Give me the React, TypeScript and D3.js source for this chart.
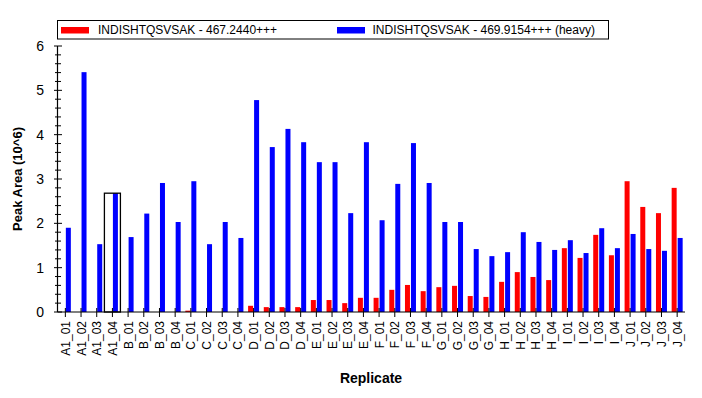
import * as d3 from "d3";

const replicates = [
  "A1_01", "A1_02", "A1_03", "A1_04",
  "B_01", "B_02", "B_03", "B_04",
  "C_01", "C_02", "C_03", "C_04",
  "D_01", "D_02", "D_03", "D_04",
  "E_01", "E_02", "E_03", "E_04",
  "F_01", "F_02", "F_03", "F_04",
  "G_01", "G_02", "G_03", "G_04",
  "H_01", "H_02", "H_03", "H_04",
  "I_01", "I_02", "I_03", "I_04",
  "J_01", "J_02", "J_03", "J_04",
];

// light precursor, 10^6
const lightArea = [
  0, 0, 0, 0,
  0, 0, 0, 0,
  0.03, 0, 0, 0,
  0.14, 0.11, 0.11, 0.11,
  0.27, 0.27, 0.2, 0.32,
  0.32, 0.5, 0.61, 0.47,
  0.56, 0.59, 0.36, 0.34,
  0.68, 0.9, 0.79, 0.72,
  1.44, 1.22, 1.74, 1.28,
  2.95, 2.37, 2.23, 2.8,
];

// heavy precursor, 10^6
const heavyArea = [
  1.9, 5.41, 1.53, 2.68,
  1.69, 2.22, 2.91, 2.03,
  2.95, 1.53, 2.03, 1.67,
  4.78, 3.72, 4.13, 3.83,
  3.38, 3.38, 2.23, 3.83,
  2.07, 2.89, 3.81, 2.91,
  2.03, 2.03, 1.42, 1.26,
  1.35, 1.8, 1.58, 1.4,
  1.62, 1.33, 1.89, 1.44,
  1.76, 1.42, 1.38, 1.67,
];

const yTicks = [0, 1, 2, 3, 4, 5, 6];
const seriesNames = [
  "INDISHTQSVSAK - 467.2440+++",
  "INDISHTQSVSAK - 469.9154+++ (heavy)",
];
const selected = "A1_04";

const W = 702;
const H = 398;
const FONT = "'Liberation Sans', Arial, sans-serif";

export default function App() {
  const x = d3.scaleBand<string>().domain(replicates).range([57.5, 685]).padding(0);
  const y = d3.scaleLinear().domain([0, 6]).range([312, 46]);
  const minor = d3.range(0, 6.001, 0.2).filter((v) => Math.abs(v - Math.round(v)) > 0.01);
  const cx = (r: string) => (x(r) as number) + x.bandwidth() / 2;
  const selIdx = replicates.indexOf(selected);
  const selMax = Math.max(lightArea[selIdx], heavyArea[selIdx]);

  return (
    <svg
      width={W}
      height={H}
      style={{ position: "absolute", left: 0, top: 0, background: "#fff" }}
      fontFamily={FONT}
    >
      {/* legend */}
      <rect x={57.5} y={20.5} width={551} height={18.5} fill="#fff" stroke="#000" />
      <rect x={61} y={27} width={28} height={6.5} fill="#FF0000" />
      <text x={98} y={34} fontSize={12}>{seriesNames[0]}</text>
      <rect x={337} y={27} width={28} height={6.5} fill="#0000FF" />
      <text x={372.5} y={34} fontSize={12}>{seriesNames[1]}</text>

      {/* bars */}
      {replicates.map((r, i) => (
        <g key={r}>
          <rect x={cx(r) - 5.5} y={y(lightArea[i])} width={5} height={y(0) - y(lightArea[i])} fill="#FF0000" />
          <rect x={cx(r) + 0.5} y={y(heavyArea[i])} width={5} height={y(0) - y(heavyArea[i])} fill="#0000FF" />
        </g>
      ))}

      {/* selected replicate outline */}
      <rect
        x={cx(selected) - 8}
        y={y(selMax)}
        width={16}
        height={y(0) - y(selMax)}
        fill="none"
        stroke="#000"
        strokeWidth={1.3}
      />

      {/* y axis */}
      <line x1={57.5} x2={57.5} y1={y(6)} y2={y(0)} stroke="#000" strokeWidth={1.2} />
      {minor.map((v) => (
        <line key={v} x1={55} x2={61} y1={y(v)} y2={y(v)} stroke="#000" />
      ))}
      {yTicks.map((v) => (
        <g key={v}>
          <line x1={54} x2={62} y1={y(v)} y2={y(v)} stroke="#000" />
          <text x={44} y={y(v) + 5} fontSize={14} textAnchor="end">{v}</text>
        </g>
      ))}
      <text
        transform={`translate(22,${y(3)}) rotate(-90)`}
        fontSize={13}
        fontWeight="bold"
        textAnchor="middle"
      >
        Peak Area (10^6)
      </text>

      {/* x axis */}
      <line x1={57.5} x2={685} y1={y(0)} y2={y(0)} stroke="#000" strokeWidth={1.2} />
      {replicates.map((r) => (
        <g key={r}>
          <line x1={cx(r)} x2={cx(r)} y1={y(0) - 4} y2={y(0) + 5} stroke="#000" />
          <text
            transform={`translate(${cx(r) + 4.5},${y(0) + 9}) rotate(-90)`}
            fontSize={12}
            textAnchor="end"
          >
            {r}
          </text>
        </g>
      ))}
      <text x={371} y={383} fontSize={14} fontWeight="bold" textAnchor="middle">
        Replicate
      </text>
    </svg>
  );
}
